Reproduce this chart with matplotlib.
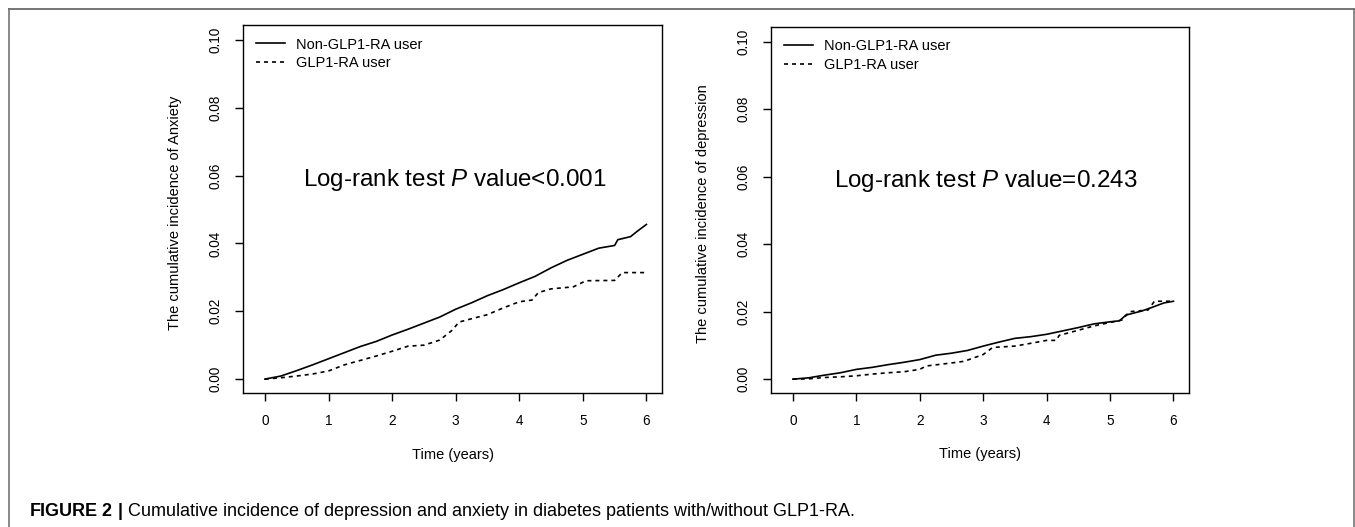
import matplotlib
matplotlib.use("Agg")
import matplotlib.pyplot as plt
from matplotlib.lines import Line2D

plt.rcParams['font.family'] = ['Liberation Sans', 'DejaVu Sans']
plt.rcParams['mathtext.fontset'] = 'custom'
plt.rcParams['mathtext.rm'] = 'Liberation Sans'
plt.rcParams['mathtext.it'] = 'Liberation Sans:italic'
plt.rcParams['mathtext.bf'] = 'Liberation Sans:bold'

# ---------------- data ----------------
series_labels = ["Non-GLP1-RA user", "GLP1-RA user"]
x_ticks = [0, 1, 2, 3, 4, 5, 6]
y_ticks = [0.00, 0.02, 0.04, 0.06, 0.08, 0.10]

# Anxiety panel
anx_t_non = [0, 0.25, 0.5, 0.75, 1.0, 1.25, 1.5, 1.75, 2.0, 2.25, 2.5, 2.75, 3.0,
             3.25, 3.5, 3.75, 4.0, 4.25, 4.5, 4.75, 5.0, 5.25, 5.5, 5.55, 5.75, 5.85, 6.0]
anx_non = [0, 0.0009, 0.0025, 0.0042, 0.0060, 0.0078, 0.0096, 0.0111, 0.0130, 0.0147,
           0.0165, 0.0183, 0.0206, 0.0225, 0.0246, 0.0264, 0.0284, 0.0303, 0.0328,
           0.0350, 0.0368, 0.0386, 0.0394, 0.0411, 0.0420, 0.0435, 0.0456]
anx_t_glp = [0, 0.25, 0.5, 0.75, 1.0, 1.25, 1.5, 1.75, 2.0, 2.25, 2.5, 2.75, 2.95, 3.05,
             3.25, 3.5, 3.75, 4.0, 4.2, 4.3, 4.5, 4.85, 5.05, 5.5, 5.62, 6.0]
anx_glp = [0, 0.0004, 0.0009, 0.0015, 0.0024, 0.0042, 0.0055, 0.0068, 0.0082, 0.0097,
           0.0100, 0.0115, 0.0145, 0.0168, 0.0178, 0.0190, 0.0210, 0.0228, 0.0233,
           0.0255, 0.0266, 0.0272, 0.0290, 0.0291, 0.0314, 0.0314]

# Depression panel
dep_t_non = [0, 0.25, 0.5, 0.75, 1.0, 1.25, 1.5, 1.75, 2.0, 2.25, 2.5, 2.75, 3.0, 3.25,
             3.5, 3.75, 4.0, 4.25, 4.5, 4.75, 5.0, 5.15, 5.25, 5.5, 5.65, 5.85, 6.0]
dep_non = [0, 0.0004, 0.0012, 0.0019, 0.0029, 0.0035, 0.0043, 0.0050, 0.0058, 0.0071,
           0.0077, 0.0085, 0.0098, 0.0110, 0.0121, 0.0126, 0.0133, 0.0143, 0.0153,
           0.0164, 0.0170, 0.0173, 0.0190, 0.0202, 0.0212, 0.0226, 0.0231]
dep_t_glp = [0, 0.25, 0.5, 0.75, 1.0, 1.25, 1.5, 1.75, 2.0, 2.1, 2.5, 2.7, 2.85, 3.0,
             3.15, 3.5, 3.8, 4.0, 4.15, 4.2, 4.5, 4.75, 5.0, 5.2, 5.3, 5.6, 5.7, 6.0]
dep_glp = [0, 0.0001, 0.0005, 0.0007, 0.0010, 0.0015, 0.0019, 0.0022, 0.0029, 0.0039,
           0.0048, 0.0053, 0.0063, 0.0073, 0.0094, 0.0098, 0.0108, 0.0115, 0.0115,
           0.0130, 0.0145, 0.0158, 0.0168, 0.0176, 0.0200, 0.0205, 0.0231, 0.0231]

panels = [
    dict(t_non=anx_t_non, non=anx_non, t_glp=anx_t_glp, glp=anx_glp,
         ylabel="The cumulative incidence of Anxiety",
         ptext=r"Log-rank test $\it{P}$ value<0.001",
         rect=[243 / 1355, 1 - 393 / 527, 419 / 1355, 368 / 527], px=0.506),
    dict(t_non=dep_t_non, non=dep_non, t_glp=dep_t_glp, glp=dep_glp,
         ylabel="The cumulative incidence of depression",
         ptext=r"Log-rank test $\it{P}$ value=0.243",
         rect=[771 / 1355, 1 - 393 / 527, 418 / 1355, 366 / 527], px=0.514),
]

fig = plt.figure(figsize=(13.55, 5.27), dpi=100)
fig.patch.set_facecolor("white")

for p in panels:
    ax = fig.add_axes(p["rect"])
    ax.plot(p["t_non"], p["non"], color="black", lw=1.2, linestyle="-",
            label=series_labels[0])
    ax.plot(p["t_glp"], p["glp"], color="black", lw=1.2,
            linestyle=(0, (2.4, 2.4)), label=series_labels[1])
    ax.set_xlim(-0.345, 6.245)
    ax.set_ylim(-0.0041, 0.1044)
    ax.set_xticks(x_ticks)
    ax.set_xticklabels([str(v) for v in x_ticks])
    ax.set_yticks(y_ticks)
    ax.set_yticklabels([f"{v:.2f}" for v in y_ticks], rotation=90, va="center")
    ax.tick_params(axis="both", direction="out", length=6, width=1,
                   labelsize=9.8, pad=9, colors="black")
    for s in ax.spines.values():
        s.set_linewidth(1.0)
        s.set_color("black")
    ax.set_ylabel(p["ylabel"], fontsize=10.5)
    ax.yaxis.set_label_coords(-0.145, 0.49)
    ax.set_xlabel("Time (years)", fontsize=10.5, va="center")
    ax.xaxis.set_label_coords(0.5, -0.168)
    ax.text(p["px"], 0.579, p["ptext"], transform=ax.transAxes, fontsize=17.4,
            ha="center", va="center")
    ax.legend(loc="upper left", bbox_to_anchor=(0.03, 0.966), frameon=False,
              fontsize=10.5, handlelength=2.0, handletextpad=0.8,
              labelspacing=0.3, borderpad=0, borderaxespad=0)

# caption
fig.text(29 / 1355, 1 - 516 / 527,
         r"$\bf{FIGURE\ 2\ |}$ Cumulative incidence of depression and anxiety in "
         r"diabetes patients with/without GLP1-RA.",
         fontsize=13.0, ha="left", va="baseline")

# outer frame
frame_col = "#6a6a6a"
fig.add_artist(Line2D([9 / 1355, 1354 / 1355], [1 - 8.5 / 527, 1 - 8.5 / 527],
                      transform=fig.transFigure, color=frame_col, lw=1.3))
fig.add_artist(Line2D([9 / 1355, 9 / 1355], [0, 1 - 8.5 / 527],
                      transform=fig.transFigure, color=frame_col, lw=1.1))
fig.add_artist(Line2D([1354 / 1355, 1354 / 1355], [0, 1 - 8.5 / 527],
                      transform=fig.transFigure, color=frame_col, lw=1.1))

fig.savefig("out.png", dpi=100)
